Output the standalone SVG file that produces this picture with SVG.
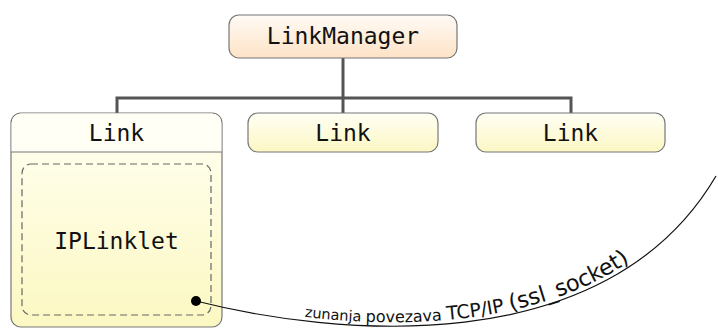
<svg xmlns="http://www.w3.org/2000/svg" xmlns:xlink="http://www.w3.org/1999/xlink" width="718" height="329" viewBox="0 0 718 329">
  <defs>
    <linearGradient id="gradManager" x1="0" y1="0" x2="0" y2="1">
      <stop offset="0" stop-color="#fffbf6"/>
      <stop offset="1" stop-color="#fde2c6"/>
    </linearGradient>
    <linearGradient id="gradLink" x1="0" y1="0" x2="0" y2="1">
      <stop offset="0" stop-color="#fffff4"/>
      <stop offset="1" stop-color="#fcf7c4"/>
    </linearGradient>
    <linearGradient id="gradBody" x1="0" y1="0" x2="0" y2="1">
      <stop offset="0" stop-color="#fffff2"/>
      <stop offset="1" stop-color="#fcf8c2"/>
    </linearGradient>
    <path id="linkPath" d="M196,301 C330,335 605,365 716,176"/>
  </defs>
  <style>
    .box { stroke: #777; stroke-width: 1.2; }
    .mono { font-family: "DejaVu Sans Mono", "Liberation Mono", monospace; font-size: 23px; fill: #111; text-anchor: middle; }
    .tree { fill: none; stroke: #555; stroke-width: 3; }
    .dashed { fill: none; stroke: #666; stroke-width: 1.2; stroke-dasharray: 7 4; }
    .wire { fill: none; stroke: #111; stroke-width: 1.2; }
    .wireLabel { font-family: "DejaVu Sans", "Liberation Sans", sans-serif; font-size: 14px; fill: #111; }
  </style>

  <!-- tree connectors -->
  <g id="connectors">
    <path class="tree" d="M343,58 V98"/>
    <path class="tree" d="M117,113 V98 H571 V113"/>
    <path class="tree" d="M343,98 V113"/>
  </g>

  <g id="linkManager">
    <rect class="box" x="229" y="15" width="228" height="43" rx="10" fill="url(#gradManager)"/>
    <text class="mono" x="343" y="44">LinkManager</text>
  </g>

  <g id="link1">
    <rect class="box" x="11" y="113" width="211" height="214" rx="10" fill="url(#gradBody)"/>
    <path d="M11.6,152 V123 a9.4,9.4 0 0 1 9.4,-9.4 H212 a9.4,9.4 0 0 1 9.4,9.4 V152 Z" fill="#fffff6"/>
    <line x1="11" y1="152" x2="222" y2="152" stroke="#777" stroke-width="1.2"/>
    <text class="mono" x="116.5" y="141">Link</text>
    <g id="ipLinklet">
      <rect class="dashed" x="22" y="164" width="189" height="151" rx="9"/>
      <text class="mono" x="116.5" y="249">IPLinklet</text>
    </g>
  </g>

  <g id="link2">
    <rect class="box" x="248" y="113" width="190" height="39" rx="10" fill="url(#gradLink)"/>
    <text class="mono" x="343" y="141">Link</text>
  </g>

  <g id="link3">
    <rect class="box" x="476" y="113" width="189" height="39" rx="10" fill="url(#gradLink)"/>
    <text class="mono" x="570.5" y="141">Link</text>
  </g>

  <!-- external TCP/IP link; label grows along the curve -->
  <g id="externalLink">
    <use xlink:href="#linkPath" class="wire"/>
    <circle cx="196" cy="301" r="5" fill="#000"/>
    <text class="wireLabel" dy="-4"><textPath xlink:href="#linkPath" startOffset="110"><tspan font-size="14.5">zunanja </tspan><tspan font-size="16">povezava </tspan><tspan font-size="19">TCP/IP </tspan><tspan font-size="22.5">(ssl_socket)</tspan></textPath></text>
  </g>
</svg>
